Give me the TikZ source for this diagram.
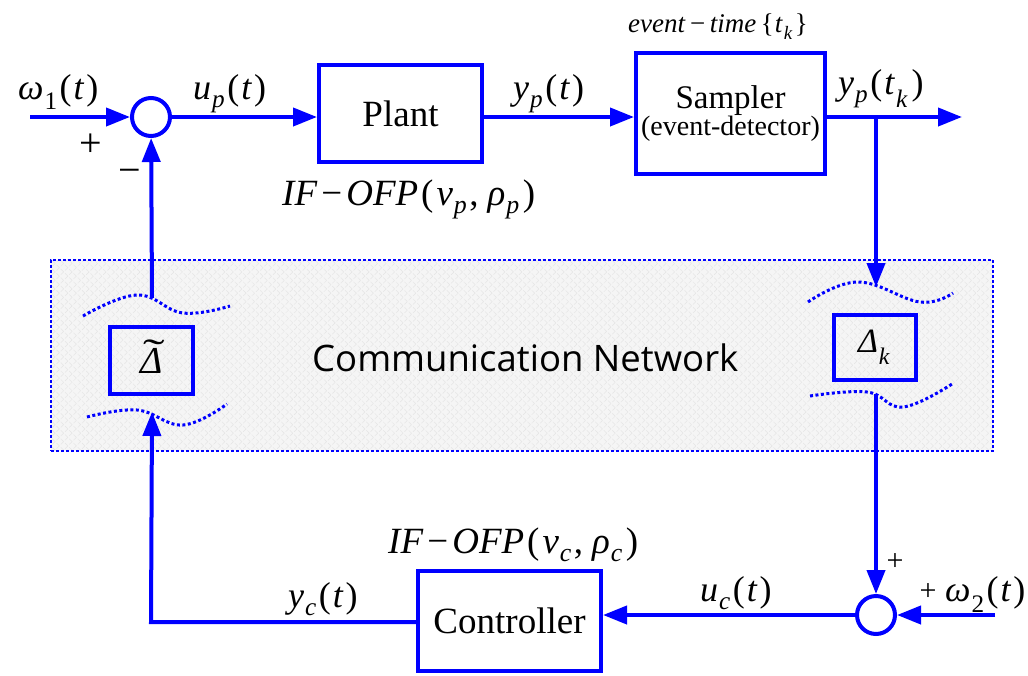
\documentclass[tikz,border=0pt]{standalone}
\usepackage{fontspec}
\usepackage{graphicx}
\setmainfont{Liberation Serif}
\newfontfamily\netfont{Open Sans}
\usetikzlibrary{arrows.meta,patterns.meta}
\definecolor{sigblue}{RGB}{0,0,255}
\newcommand{\fs}[1]{\fontsize{#1}{#1}\selectfont}
\newcommand{\iv}[1]{\textit{#1}}
% lowered italic subscript with a little room after it
\newcommand{\lo}[1]{\kern1pt\raisebox{-0.12em}{\textsubscript{\itshape #1}}\kern2pt}
\newcommand{\upsub}[1]{\kern1pt\raisebox{-0.08em}{\textsubscript{#1}}\kern2pt}
\newcommand{\sigarg}[1]{(\kern2pt#1\kern2pt)}
\newcommand{\mminus}{\textup{−}}
\newcommand{\tdelta}{\ooalign{\textit{Δ}\cr\hidewidth\kern0.12em\raisebox{0.2em}{\scalebox{1.7}[1]{˜}}\hidewidth\cr}}
\newcommand{\ifofp}[1]{\iv{IF}\kern4pt\mminus\kern4pt\iv{OFP}\kern3pt(\kern3pt\iv{ν}\lo{#1},\kern9pt\iv{ρ}\lo{#1}\kern1pt)}

\begin{document}
\begin{tikzpicture}[x=1pt,y=-1pt,
  block/.style={draw=sigblue, line width=4pt, inner sep=0pt, align=center},
  sumpt/.style={circle, draw=sigblue, line width=4pt, minimum size=38pt, inner sep=0pt},
  sig/.style={draw=sigblue, line width=4pt, -{Triangle[length=24pt,width=18pt]}},
  wave/.style={draw=sigblue, line width=3pt, dash pattern=on 3pt off 2.5pt},
  lbl/.style={anchor=base west, inner sep=0pt, font=\fs{36}},
  sign/.style={inner sep=0pt, font=\fs{40}}]

\useasboundingbox (0,0) rectangle (1028,675);

% communication network area
\node[draw=sigblue, line width=1.6pt, dash pattern=on 3pt off 2pt,
      preaction={fill=black!4},
      preaction={pattern={Lines[angle=45,distance=6pt,line width=0.5pt]}, pattern color=black!10},
      preaction={pattern={Lines[angle=-45,distance=6pt,line width=0.5pt]}, pattern color=black!10},
      minimum width=942pt, minimum height=191pt, inner sep=0pt, anchor=north west]
      (net) at (50,259) {};
\node[anchor=base west, inner sep=0pt, font=\netfont\fs{36.5}] (netlbl) at (312,371) {Communication Network};

% channel boundaries (wavy dotted lines)
\draw[wave] plot[smooth, tension=0.7] coordinates {(83,316) (137,295) (183,313) (230,306)};
\draw[wave] plot[smooth, tension=0.7] coordinates {(87,417) (137,410) (183,425) (227,404)};
\draw[wave] plot[smooth, tension=0.7] coordinates {(808,302) (858,282) (920,302) (953,293)};
\draw[wave] plot[smooth, tension=0.7] coordinates {(810,396) (867,392) (903,407) (952,384)};
\coordinate (lwtop) at (152,298);
\coordinate (lwbot) at (152,412);
\coordinate (rwtop) at (876,287);
\coordinate (rwbot) at (876,394);

% blocks
\node[block, minimum width=163pt, minimum height=97pt] (plant) at (400.5,113.5) {\fs{37}Plant};
\node[block, minimum width=189pt, minimum height=121pt] (sampler) at (730.5,113.5)
  {\fontsize{33}{34}\selectfont Sampler\\\fontsize{28}{34}\selectfont(event-detector)};
\node[block, minimum width=183pt, minimum height=100pt] (ctrl) at (509.5,621) {\fs{37}Controller};
\node[block, minimum width=83pt, minimum height=67pt] (dtil) at (151.5,360.5) {\fs{38}\tdelta};
\node[block, minimum width=82pt, minimum height=65pt] (dk) at (875,347.5) {\fs{34}\iv{Δ}\lo{k}};

% summing junctions
\node[sumpt] (sum1) at (151,117) {};
\node[sumpt] (sum2) at (876,615) {};

% labels
\node[lbl] (w1lbl) at (18,99) {\iv{ω}\upsub{1}\sigarg{\iv{t}}};
\node[lbl] (uplbl) at (193,99) {\iv{u}\lo{p}\sigarg{\iv{t}}};
\node[lbl] (yplbl) at (513,99) {\iv{y}\lo{p}\sigarg{\iv{t}}};
\node[lbl] (ytklbl) at (838,94) {\iv{y}\lo{p}\sigarg{\iv{t}\lo{k}}};
\node[lbl, font=\fs{27}] (evlbl) at (628,32) {\iv{event}\,\mminus\,\iv{time}\,\{\kern1pt\iv{t}\lo{k}\}};
\node[lbl, font=\fs{37}] (pplbl) at (282,205) {\ifofp{p}};
\node[lbl, font=\fs{37}] (pclbl) at (388,553) {\ifofp{c}};
\node[lbl] (uclbl) at (700,601) {\iv{u}\lo{c}\sigarg{\iv{t}}};
\node[lbl] (w2lbl) at (945,601) {\iv{ω}\upsub{2}\sigarg{\iv{t}}};
\node[lbl] (yclbl) at (288,607) {\iv{y}\lo{c}\sigarg{\iv{t}}};
\node[sign] (p1) at (91,145) {+};
\node[sign] (m1) at (130,176) {\mminus};
\node[sign, font=\fs{30}] (p2) at (895,562) {+};
\node[sign, font=\fs{30}] (p3) at (928,592) {+};

% signal flow
\coordinate (w1in) at (30,117);
\coordinate (tap) at (876,117);
\coordinate (ypout) at (962,117);
\coordinate (w2in) at (995,615);
\coordinate (fbcorner) at (151,622);

\draw[sig] (w1in) -- (sum1);
\draw[sig] (sum1.east) -- (sum1.east -| plant.west);
\draw[sig] (plant.east |- sum1) -- (sampler.west |- sum1);
\draw[sig] (sampler.east |- sum1) -- (ypout);
\draw[sig] (tap) -- (rwtop);
\draw[sig] (rwbot) -- (sum2);
\draw[sig] (w2in) -- (sum2);
\draw[sig] (sum2.west) -- (sum2.west -| ctrl.east);
\draw[sig] (ctrl.west |- fbcorner) -- (fbcorner) -- (lwbot);
\draw[sig] (lwtop) -- (sum1);
\end{tikzpicture}
\end{document}
